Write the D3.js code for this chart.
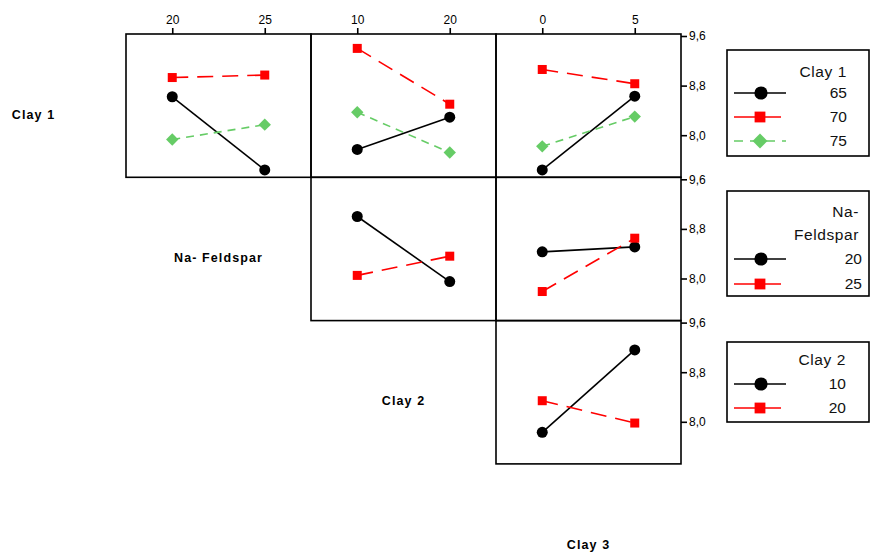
<!DOCTYPE html>
<html>
<head>
<meta charset="utf-8">
<script src="https://cdn.jsdelivr.net/npm/d3@7"></script>
<style>
  body { margin: 0; background: #fff; }
  svg { font-family: "Liberation Sans", Arial, sans-serif; }
</style>
</head>
<body>
<svg id="chart" width="871" height="554"></svg>
<script>
// ---------------- data ----------------
const factors = ["Clay 1", "Na-Feldspar", "Clay 2", "Clay 3"];
const clay1Levels = ["65", "70", "75"];
const naFeldsparLevels = ["20", "25"];
const clay2Levels = ["10", "20"];
const clay3Levels = ["0", "5"];
const yTicks = [8.0, 8.8, 9.6];

// means (trace level -> values at the two x levels)
const clay1ByNaFeldspar = [[8.62, 7.44], [8.93, 8.97], [7.93, 8.17]];
const clay1ByClay2      = [[7.77, 8.29], [9.40, 8.50], [8.37, 7.72]];
const clay1ByClay3      = [[7.44, 8.63], [9.06, 8.83], [7.82, 8.30]];
const naFeldsparByClay2 = [[9.00, 7.95], [8.05, 8.36]];
const naFeldsparByClay3 = [[8.43, 8.51], [7.79, 8.65]];
const clay2ByClay3      = [[7.83, 9.16], [8.34, 7.98]];

const levels = [clay1Levels, naFeldsparLevels, clay2Levels, clay3Levels];
// panel table: row = trace factor index, col = x factor index (1..3)
const panels = [
  { row: 0, col: 1, values: clay1ByNaFeldspar },
  { row: 0, col: 2, values: clay1ByClay2 },
  { row: 0, col: 3, values: clay1ByClay3 },
  { row: 1, col: 2, values: naFeldsparByClay2 },
  { row: 1, col: 3, values: naFeldsparByClay3 },
  { row: 2, col: 3, values: clay2ByClay3 }
];

// ---------------- layout ----------------
const svg = d3.select("#chart");
const x0 = 126 - 185, y0 = 34, cw = 185, ch = 143.3;
const colX = c => x0 + c * cw;
const rowY = r => y0 + r * ch;

const styles = [
  { color: "#000000", dash: null, shape: "circle" },
  { color: "#ff0000", dash: "16,9", shape: "square" },
  { color: "#66cc66", dash: "8,6", shape: "diamond" }
];

const yScale = d3.scaleLinear().domain([9.6 - (ch - 2) / 62, 9.6 + 2 / 62]).range([ch, 0]);

function marker(g, shape, color, size) {
  if (shape === "circle") {
    g.append("circle").attr("r", size * 0.55).attr("fill", color);
  } else if (shape === "square") {
    const s = size * 0.9;
    g.append("rect").attr("x", -s / 2).attr("y", -s / 2).attr("width", s).attr("height", s).attr("fill", color);
  } else {
    const s = size * 0.62;
    g.append("path").attr("d", `M0,${-s}L${s},0L0,${s}L${-s},0Z`).attr("fill", color);
  }
}

// panels
panels.forEach(p => {
  const g = svg.append("g").attr("transform", `translate(${colX(p.col)},${rowY(p.row)})`);
  const xScale = d3.scalePoint().domain(levels[p.col]).range([0, cw]).padding(0.5);
  p.values.forEach((vals, i) => {
    const st = styles[i];
    const pts = vals.map((v, k) => [xScale(levels[p.col][k]), yScale(v)]);
    g.append("path")
      .attr("d", d3.line()(pts))
      .attr("fill", "none")
      .attr("stroke", st.color)
      .attr("stroke-width", 1.6)
      .attr("stroke-dasharray", st.dash);
    pts.forEach(pt => {
      marker(g.append("g").attr("transform", `translate(${pt[0]},${pt[1]})`), st.shape, st.color, 10);
    });
  });
  g.append("rect").attr("width", cw).attr("height", ch)
    .attr("fill", "none").attr("stroke", "#000").attr("stroke-width", 1.6);

  // top axis on first row
  if (p.row === 0) {
    const ax = g.append("g").call(d3.axisTop(xScale).tickSize(6).tickPadding(4));
    ax.select(".domain").remove();
    ax.selectAll("line").attr("stroke-width", 1.6);
    ax.selectAll("text").attr("font-size", 12).attr("font-family", "Liberation Sans, Arial, sans-serif");
  }
  // right axis on last column
  if (p.col === 3) {
    const ay = g.append("g").attr("transform", `translate(${cw},0)`)
      .call(d3.axisRight(yScale).tickValues(yTicks).tickSize(6).tickPadding(2)
        .tickFormat(d => d3.format(".1f")(d).replace(".", ",")));
    ay.select(".domain").remove();
    ay.selectAll("line").attr("stroke-width", 1.6);
    ay.selectAll("text").attr("font-size", 12).attr("font-family", "Liberation Sans, Arial, sans-serif");
  }
});

// diagonal factor labels
factors.forEach((f, i) => {
  svg.append("text")
    .attr("x", colX(i) + cw / 2)
    .attr("y", rowY(i) + ch / 2 + 13)
    .attr("text-anchor", "middle")
    .attr("font-size", 12.5)
    .attr("font-weight", "bold")
    .attr("letter-spacing", 1.1)
    .text(f.replace("Na-Feldspar", "Na- Feldspar"));
});

// legends
const legends = [
  { top: 50, bottom: 156, title: ["Clay 1"], titleY: [72], rowsY: [93, 117, 141], labels: clay1Levels, textX: 847, titleX: 847 },
  { top: 191, bottom: 296, title: ["Na-", "Feldspar"], titleY: [212, 235], rowsY: [259, 284], labels: naFeldsparLevels, textX: 862, titleX: 859 },
  { top: 342, bottom: 422, title: ["Clay 2"], titleY: [360], rowsY: [384, 408], labels: clay2Levels, textX: 846, titleX: 846 }
];
legends.forEach(L => {
  const g = svg.append("g");
  g.append("rect").attr("x", 727).attr("y", L.top).attr("width", 142).attr("height", L.bottom - L.top)
    .attr("fill", "#fff").attr("stroke", "#000").attr("stroke-width", 1.6);
  L.title.forEach((t, k) => {
    g.append("text").attr("x", L.titleX).attr("y", L.titleY[k]).attr("dy", "0.35em")
      .attr("text-anchor", "end").attr("font-size", 15.5).attr("letter-spacing", 0.6)
      .attr("fill", "#111").text(t);
  });
  L.labels.forEach((lab, i) => {
    const st = styles[i];
    const yy = L.rowsY[i];
    const x2 = i === 1 ? 781 : 786;
    g.append("line").attr("x1", 734).attr("x2", x2).attr("y1", yy).attr("y2", yy)
      .attr("stroke", st.color).attr("stroke-width", i === 1 ? 1.3 : 1.6)
      .attr("stroke-dasharray", i === 2 ? "9,7" : null);
    marker(g.append("g").attr("transform", `translate(${i === 0 ? 761 : 760},${yy})`), st.shape, st.color, 12);
    g.append("text").attr("x", L.textX).attr("y", yy).attr("dy", "0.35em")
      .attr("text-anchor", "end").attr("font-size", 15.5).attr("fill", "#111").text(lab);
  });
});
</script>
</body>
</html>
